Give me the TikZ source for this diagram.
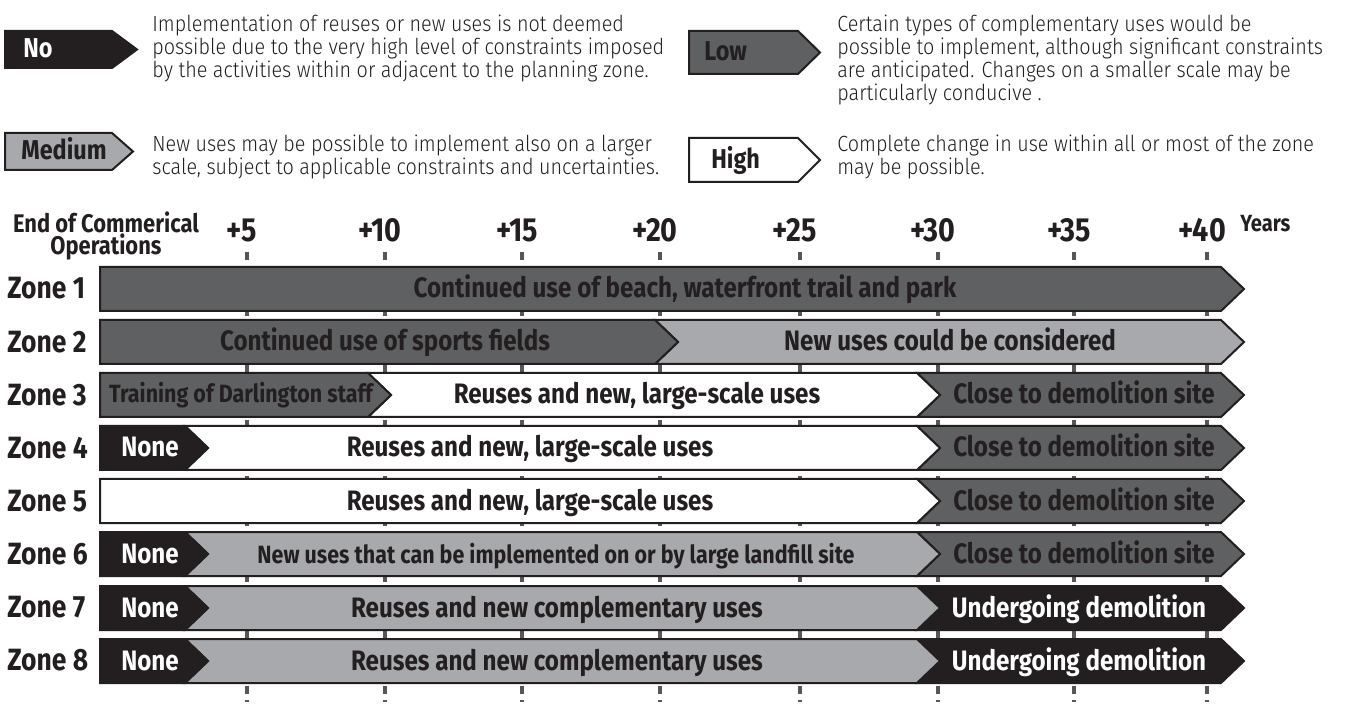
\documentclass[tikz,border=0pt]{standalone}
\usepackage{fontspec}
\setmainfont{Fira Sans}[FakeStretch=0.86]
\newfontfamily\lightfont{Fira Sans Light}[FakeStretch=0.9]

\definecolor{ink}{HTML}{231F20}
\definecolor{darkfill}{HTML}{5F6062}
\definecolor{lightfill}{HTML}{A7A9AC}
\definecolor{tickgray}{HTML}{5B5555}

% light text for the legend, lines kept at a fixed pitch
\newcommand{\descfont}{\lightfont\fontsize{12.5}{13}\selectfont\setlength{\lineskiplimit}{-10pt}}

% one chevron piece of a zone bar
% #1 row top, #2 left x, #3 right x, #4 notch depth, #5 fill
\newcommand{\chev}[5]{%
  \draw[seg, fill=#5] (#2,#1) -- (#3,#1) -- ++(23,22) -- (#3,#1+44)
    -- (#2,#1+44) -- ++(#4,-22) -- cycle;}

\begin{document}
\begin{tikzpicture}[x=0.2mm, y=-0.2mm,
  seg/.style={draw=ink, line width=0.4mm, line join=miter},
  tick/.style={draw=tickgray, line width=0.9mm, dash pattern=on 1.6mm off 1.2mm},
  lbl/.style={anchor=base, inner sep=0, text=ink, font=\bfseries\fontsize{16}{18}\selectfont},
  small/.style={lbl, font=\bfseries\fontsize{14.2}{16}\selectfont},
  inv/.style={lbl, text=white},
  zone/.style={anchor=base west, inner sep=0, text=ink, font=\bfseries\fontsize{17.5}{20}\selectfont},
  year/.style={anchor=base, inner sep=0, text=ink, font=\bfseries\fontsize{19}{21}\selectfont},
  key/.style={anchor=base west, inner sep=0, text=ink, font=\bfseries\fontsize{15.5}{18}\selectfont},
  desc/.style={anchor=north west, inner sep=0, align=left, text=ink, font=\descfont}]

  \path[fill=white] (0,0) rectangle (1348,702);

  % legend
  \draw[seg, fill=ink] (5,31) -- (112,31) -- (137,49.5) -- (112,68) -- (5,68) -- cycle;
  \node[key, text=white] (key-no) at (23,58) {No};
  \node[desc] (desc-no) at (152,15) {Implementation of reuses or new uses is not deemed\\possible due to the very high level of constraints imposed\\by the activities within or adjacent to the planning zone.};
  \draw[seg, fill=lightfill] (5,133) -- (112,133) -- (133,151.5) -- (112,170) -- (5,170) -- cycle;
  \node[key] (key-medium) at (21,160) {Medium};
  \node[desc] (desc-medium) at (152,135) {New uses may be possible to implement also on a larger\\scale, subject to applicable constraints and uncertainties.};
  \draw[seg, fill=darkfill] (689,31) -- (798,31) -- (820,52.5) -- (798,74) -- (689,74) -- cycle;
  \node[key] (key-low) at (704,61) {Low};
  \node[desc] (desc-low) at (837,15) {Certain types of complementary uses would be\\possible to implement, although significant constraints\\are anticipated. Changes on a smaller scale may be\\particularly conducive .};
  \draw[seg, fill=white] (689,138) -- (798,138) -- (820,160) -- (798,182) -- (689,182) -- cycle;
  \node[key] (key-high) at (711,169) {High};
  \node[desc] (desc-high) at (837,135) {Complete change in use within all or most of the zone\\may be possible.};

  % time axis
  \node[anchor=north, inner sep=0, align=center, text=ink, font=\bfseries\fontsize{14.5}{13}\selectfont] (eco) at (106,211) {End of Commerical\\Operations};
  \foreach \x/\yr in {247/5,385/10,522/15,660/20,800/25,938/30,1074/35,1207/40}{
    \draw[tick] (\x,252) -- (\x,702);
    \node[year] (yr\yr) at (\x-5,242) {+\yr};
  }
  \node[anchor=base west, inner sep=0, text=ink, font=\bfseries\fontsize{13.3}{15}\selectfont] (years) at (1240,232) {Years};

  \foreach \i in {1,...,8}
    \node[zone] (zone\i) at (7,{267+53.1*(\i-1)+32}) {Zone \i};

  % zone 1
  \chev{267}{100}{1221}{0}{darkfill}
  \node[lbl] (z1-park) at (685,298) {Continued use of beach, waterfront trail and park};
  % zone 2
  \chev{320}{655}{1221}{23}{lightfill}
  \chev{320}{100}{655}{0}{darkfill}
  \node[lbl] (z2-fields) at (385,351) {Continued use of sports fields};
  \node[lbl] (z2-new) at (950,351) {New uses could be considered};
  % zone 3
  \chev{373}{917}{1221}{23}{darkfill}
  \chev{373}{368}{917}{23}{white}
  \chev{373}{100}{368}{0}{darkfill}
  \node[small] (z3-staff) at (241,403) {Training of Darlington staff};
  \node[lbl] (z3-reuse) at (637,404) {Reuses and new, large-scale uses};
  \node[lbl] (z3-demo) at (1084,404) {Close to demolition site};
  % zone 4
  \chev{426}{917}{1221}{23}{darkfill}
  \chev{426}{185}{917}{23}{white}
  \chev{426}{100}{185}{0}{ink}
  \node[inv] (z4-none) at (150,457) {None};
  \node[lbl] (z4-reuse) at (530,457) {Reuses and new, large-scale uses};
  \node[lbl] (z4-demo) at (1084,457) {Close to demolition site};
  % zone 5
  \chev{479}{917}{1221}{23}{darkfill}
  \chev{479}{100}{917}{0}{white}
  \node[lbl] (z5-reuse) at (530,510) {Reuses and new, large-scale uses};
  \node[lbl] (z5-demo) at (1084,510) {Close to demolition site};
  % zone 6
  \chev{532}{917}{1221}{23}{darkfill}
  \chev{532}{185}{917}{23}{lightfill}
  \chev{532}{100}{185}{0}{ink}
  \node[inv] (z6-none) at (150,563) {None};
  \node[small] (z6-landfill) at (556,563) {New uses that can be implemented on or by large landfill site};
  \node[lbl] (z6-demo) at (1084,563) {Close to demolition site};
  % zone 7
  \chev{586}{917}{1221}{23}{ink}
  \chev{586}{185}{917}{23}{lightfill}
  \chev{586}{100}{185}{0}{ink}
  \node[inv] (z7-none) at (150,617) {None};
  \node[lbl] (z7-reuse) at (557,617) {Reuses and new complementary uses};
  \node[inv] (z7-demo) at (1079,617) {Undergoing demolition};
  % zone 8
  \chev{639}{917}{1221}{23}{ink}
  \chev{639}{185}{917}{23}{lightfill}
  \chev{639}{100}{185}{0}{ink}
  \node[inv] (z8-none) at (150,670) {None};
  \node[lbl] (z8-reuse) at (557,670) {Reuses and new complementary uses};
  \node[inv] (z8-demo) at (1079,670) {Undergoing demolition};
\end{tikzpicture}
\end{document}
